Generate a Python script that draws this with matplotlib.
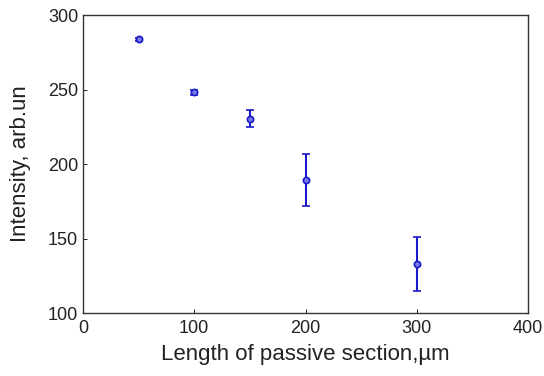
import numpy as np
import matplotlib.pyplot as plt

plt.rcParams['font.family'] = ['Liberation Sans', 'DejaVu Sans']

length = [50, 100, 150, 200, 300]
intensity = [283.8, 248.0, 230.5, 189.5, 133.0]
err = [1.0, 2.0, 5.5, 17.5, 18.0]

fig = plt.figure(figsize=(5.44, 3.76), dpi=100)
ax = fig.add_axes([83/544, 63/376, 445/544, 298/376])

ax.errorbar(length, intensity, yerr=err, fmt='o', color='#1a1acc',
            markersize=4.5, markerfacecolor='#7a7ae6', markeredgewidth=1.2,
            elinewidth=1.5, capsize=3, capthick=1.5)

ax.set_xlim(0, 400)
ax.set_ylim(100, 300)
ax.set_xticks([0, 100, 200, 300, 400])
ax.set_yticks([100, 150, 200, 250, 300])
ax.tick_params(direction='in', length=3, labelsize=13, width=0.6, labelcolor='#222222')
ax.tick_params(axis='x', pad=5)
for s in ax.spines.values():
    s.set_linewidth(1.0)
    s.set_color('#333333')

ax.set_xlabel('Length of passive section,\u00b5m', fontsize=16, color='#222222', labelpad=5)
ax.set_ylabel('Intensity, arb.un', fontsize=16, color='#222222', labelpad=12)

plt.savefig('out.png', dpi=100)
